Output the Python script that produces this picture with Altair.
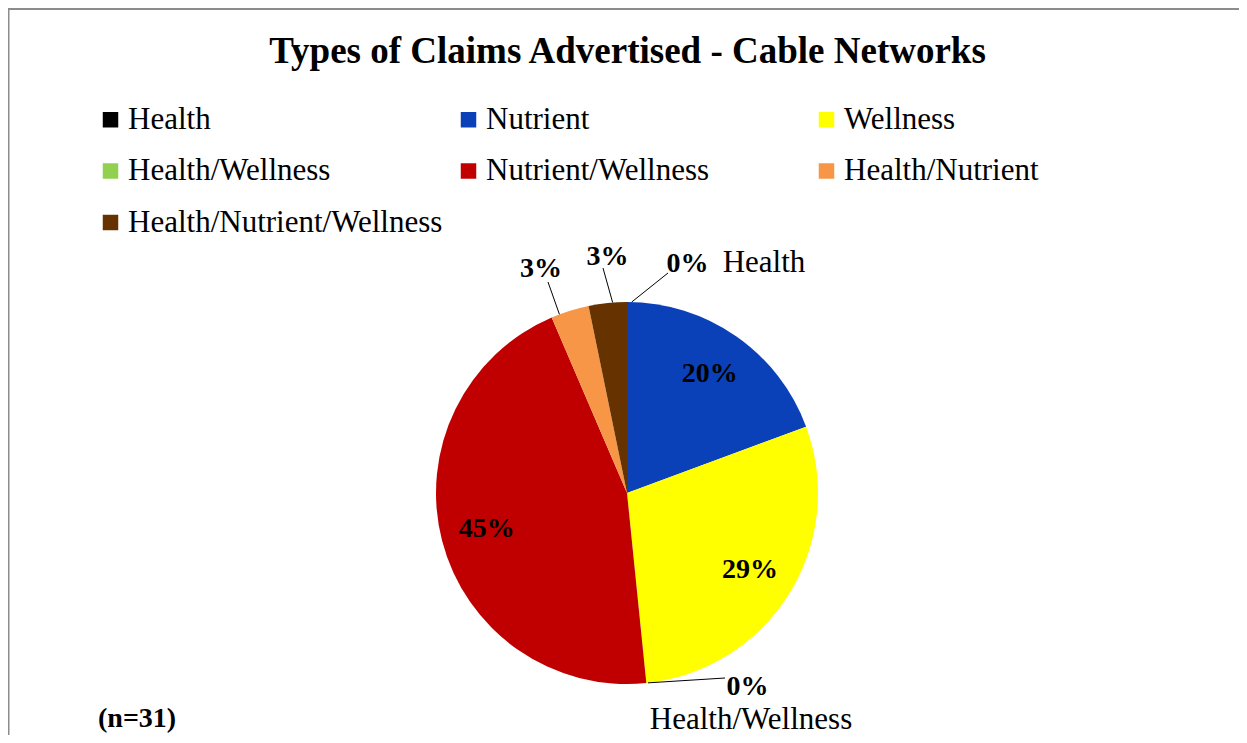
import math
import altair as alt
import pandas as pd

# ---- data ----
categories = ["Health", "Nutrient", "Wellness", "Health/Wellness",
              "Nutrient/Wellness", "Health/Nutrient", "Health/Nutrient/Wellness"]
counts = [0, 6, 9, 0, 14, 1, 1]          # n = 31
pct_labels = ["0%", "20%", "29%", "0%", "45%", "3%", "3%"]
colors = ["#000000", "#0A40B8", "#FFFF00", "#92D050", "#C00000", "#F79646", "#663300"]
title_text = "Types of Claims Advertised - Cable Networks"
n_text = "(n=31)"

# ---- layout (styles / positions) ----
W, H = 1231, 727
CX, CY, R = 619, 485, 191
SERIF = "Liberation Serif"
inside_min = 5                         # slices this large get an inside label

# outside labels: category -> (leader start angle shift, leader end dx, dy,
#   pct label centre dx, baseline dy, name label centre dx, baseline dy or None)
outside = {
    "Health": (1.4, 41, -220, 60.5, -221, 137, -221),
    "Health/Wellness": (-0.5, 98, 185, 120.5, 202, 124, 236),
    "Health/Nutrient": (-3.3, -79, -211, -86, -216.5, None, None),
    "Health/Nutrient/Wellness": (1.5, -24, -225, -19.5, -228, None, None),
}

total = sum(counts)
pie_df = pd.DataFrame({
    "category": categories,
    "count": counts,
    "label": pct_labels,
    "idx": list(range(len(categories))),
})
pie_df["inside"] = [l if c >= inside_min else "" for l, c in zip(pct_labels, counts)]

# mid angles (degrees, clockwise from 12 o'clock) derived from the data
cum = 0
mid = {}
for cat, c in zip(categories, counts):
    mid[cat] = (cum + c / 2) / total * 360
    cum += c

lead_rows, pct_rows, name_rows = [], [], []
for cat, (shift, ex, ey, px, py, nx, ny) in outside.items():
    a = math.radians(mid[cat] + shift)
    sx, sy = CX + R * math.sin(a), CY - R * math.cos(a)
    lead_rows.append({"x": sx, "y": sy, "x2": CX + ex, "y2": CY + ey})
    i = categories.index(cat)
    pct_rows.append({"x": CX + px, "y": CY + py, "t": pct_labels[i]})
    if nx is not None:
        name_rows.append({"x": CX + nx, "y": CY + ny, "t": cat})

lead_df = pd.DataFrame(lead_rows)
pct_df = pd.DataFrame(pct_rows)
name_df = pd.DataFrame(name_rows)

legend = alt.Legend(
    orient="none", legendX=87, legendY=96, columns=3, direction="horizontal",
    gridAlign="all", symbolType="square", symbolSize=240, symbolStrokeWidth=0,
    symbolOpacity=1, labelFont=SERIF, labelFontSize=31, labelColor="black",
    labelOffset=2, columnPadding=10, rowPadding=19.5, title=None, padding=0,
    labelLimit=0,
)

pie = alt.Chart(pie_df).mark_arc(outerRadius=R).encode(
    theta=alt.Theta("count:Q", stack=True),
    order=alt.Order("idx:Q"),
    color=alt.Color("category:N", scale=alt.Scale(domain=categories, range=colors),
                    legend=legend),
    x=alt.value(CX), y=alt.value(CY),
)

inside_text = alt.Chart(pie_df).mark_text(
    radius=145, font=SERIF, fontSize=28, fontWeight="bold", color="black",
    align="center", baseline="middle",
).encode(
    theta=alt.Theta("count:Q", stack=True),
    order=alt.Order("idx:Q"),
    text="inside:N",
    x=alt.value(CX), y=alt.value(CY),
)

leaders = alt.Chart(lead_df).mark_rule(color="#000000", strokeWidth=1).encode(
    x=alt.X("x:Q", scale=None, axis=None),
    y=alt.Y("y:Q", scale=None, axis=None),
    x2="x2:Q", y2="y2:Q",
)

pct_out = alt.Chart(pct_df).mark_text(
    font=SERIF, fontSize=28, fontWeight="bold", color="black",
    align="center", baseline="alphabetic",
).encode(
    x=alt.X("x:Q", scale=None, axis=None),
    y=alt.Y("y:Q", scale=None, axis=None),
    text="t:N",
)

name_out = alt.Chart(name_df).mark_text(
    font=SERIF, fontSize=31, color="black", align="center", baseline="alphabetic",
).encode(
    x=alt.X("x:Q", scale=None, axis=None),
    y=alt.Y("y:Q", scale=None, axis=None),
    text="t:N",
)

title = alt.Chart(pd.DataFrame({"t": [title_text]})).mark_text(
    font=SERIF, fontSize=37, fontWeight="bold", color="black",
    align="center", baseline="alphabetic",
).encode(x=alt.value(619.5), y=alt.value(55), text="t:N")

ntext = alt.Chart(pd.DataFrame({"t": [n_text]})).mark_text(
    font=SERIF, fontSize=28, fontWeight="bold", color="black",
    align="left", baseline="alphabetic",
).encode(x=alt.value(90), y=alt.value(719), text="t:N")

frame_top = alt.Chart(pd.DataFrame({"a": [0]})).mark_rule(
    color="#8c8c8c", strokeWidth=2
).encode(x=alt.value(0), x2=alt.value(W), y=alt.value(1))
frame_left = alt.Chart(pd.DataFrame({"a": [0]})).mark_rule(
    color="#8c8c8c", strokeWidth=1.5
).encode(x=alt.value(0.75), y=alt.value(0), y2=alt.value(H))

chart = alt.layer(
    frame_top, frame_left, pie, inside_text, leaders, pct_out, name_out, title, ntext
).properties(
    width=W, height=H, autosize=alt.AutoSizeParams(type="none"), padding=0,
).configure_view(stroke=None).configure(background="white")

chart.save("out.html", embed_options={"renderer": "svg", "actions": False})
